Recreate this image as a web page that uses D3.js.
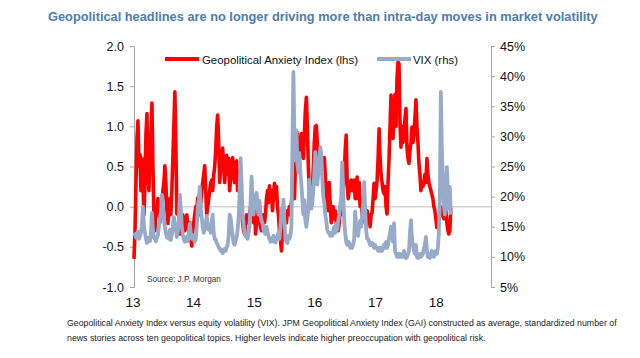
<!DOCTYPE html>
<html><head><meta charset="utf-8">
<script src="https://cdn.jsdelivr.net/npm/d3@7"></script>
<style>
body{margin:0;background:#fff;}
svg{display:block;font-family:"Liberation Sans",Arial,Helvetica,sans-serif;}
</style>
</head><body>
<svg id="chart" width="640" height="358"></svg>
<script>
// ---- data (one observation every 6 days starting 2013-01-01) ----
const startDate = new Date(2013, 0, 1);
const stepDays = 6;

const gaiValues = [
-0.65,-0.3,0.3,0.85,1.07,0.5,0.65,0.2,0.6,0.3,
-0.1,0.3,0.9,1.16,0.4,0.2,0.7,0.9,1.29,0.5,
-0.1,-0.3,0.0,-0.1,0.1,-0.05,-0.2,0.0,-0.1,0.2,
0.3,0.51,0.3,-0.05,-0.21,0.0,0.1,-0.1,0.2,0.6,
1.0,1.43,0.8,-0.09,0.1,-0.1,-0.34,-0.2,-0.25,-0.1,
-0.2,-0.3,-0.2,-0.1,-0.25,-0.3,-0.2,-0.4,-0.49,-0.3,
-0.2,-0.1,0.0,-0.05,0.11,0.0,-0.1,0.05,0.2,0.3,
0.4,0.51,0.2,-0.1,0.0,0.1,0.2,0.3,0.33,0.2,
0.39,0.5,0.7,1.0,1.14,0.8,0.3,0.5,0.6,0.73,
0.5,0.3,0.5,0.64,0.4,0.6,0.2,0.35,0.5,0.61,
0.4,0.3,0.5,0.57,0.2,0.4,0.45,0.2,0.0,-0.2,
-0.3,-0.34,-0.2,-0.1,-0.2,-0.15,-0.1,0.0,-0.05,0.11,
-0.2,0.04,-0.34,-0.2,-0.1,-0.2,-0.15,-0.25,-0.3,-0.2,
-0.1,-0.2,-0.1,0.1,0.2,0.05,0.26,0.1,0.2,-0.05,
0.15,0.29,0.1,0.25,0.0,-0.1,-0.3,-0.4,-0.55,-0.3,
-0.2,-0.15,-0.1,-0.2,-0.05,-0.1,0.0,-0.1,0.05,0.2,
0.33,0.1,0.5,0.7,0.92,0.7,0.6,0.64,0.91,0.8,
0.6,0.9,1.2,1.36,1.0,0.5,0.2,0.07,0.0,0.2,
0.5,0.8,1.0,1.01,0.8,0.6,0.41,0.5,0.61,0.5,
0.3,0.61,0.4,0.2,0.0,-0.05,0.3,0.0,-0.2,-0.1,
0.0,-0.15,-0.05,-0.2,-0.1,-0.3,-0.2,0.0,-0.1,0.1,
0.2,0.4,0.7,0.89,0.3,0.1,0.2,0.3,0.33,0.2,
0.3,0.33,0.1,0.2,0.37,0.1,0.3,0.0,0.1,-0.1,
0.0,-0.1,-0.2,-0.24,-0.05,-0.2,-0.1,-0.25,-0.1,-0.07,
0.1,0.29,0.1,0.2,0.33,0.6,0.97,0.6,0.4,0.3,
0.2,0.16,0.25,0.0,-0.09,0.3,0.6,1.0,1.39,1.0,
0.85,1.16,1.4,1.0,1.6,1.8,1.78,1.03,0.74,1.0,
0.8,0.9,1.1,1.22,0.74,0.6,0.54,0.7,0.8,0.99,
0.8,0.9,1.1,1.33,1.0,0.8,0.54,0.4,0.2,0.3,
0.25,0.3,0.4,0.3,0.6,0.4,0.3,0.25,0.2,0.15,
0.1,0.0,-0.05,-0.15,-0.26,-0.2,-0.15,-0.1,0.0,-0.05,
-0.1,-0.15,-0.1,-0.05,-0.2,-0.29,-0.34,-0.3,-0.02
];

const vixValues = [
14,13.8,13.2,13.6,14.2,13,13.5,14,15.5,18.3,
15,14,13,12.3,12.8,13.2,12.6,14,17.3,14.5,
13.2,13,12.6,13.2,13.6,15,16.2,17.5,20.3,18.5,
16.5,15,14,13.2,13.4,13,14.5,12.8,13.8,15,
16.6,15.5,14.5,13.3,14.2,16,20.3,18,15,13.6,
13,12.5,12.8,13.3,12.6,13.8,15.5,14,13,13.6,
13.2,12.5,13,15,18.1,19.5,21.6,18,16.5,15,
14,14.5,15.5,16.8,15,14.5,15.2,14,15.8,17,
14,13,12.9,12.3,12,11.6,11.4,11,11.2,10.6,
11,11.3,11,11.6,12,13.5,17,16.5,15,13.5,
12.2,12,12.8,13.2,14.5,16.5,20.5,26.4,22,17,
15.5,14,13.5,13.2,13,14,15,19,23.3,19.5,
17,19,20,20.6,19,17,19.3,17,16,15.6,
14.5,14,13.8,15,14.2,13.5,13,12.5,13,12.6,
13.5,12.5,12.4,13,13.5,14,13,15,18,16.5,
19.5,16,13,12.5,12.3,13.5,13,13.5,15,28,
40.7,30,26,31,25.5,24,27.2,24,22,19.5,
17,19.4,16,15,16.5,18,22.8,20,18,19,
21,24,27.4,25,22,24,26,28.2,27,23,
20,19,17,16,14.5,14,14,13.5,14,13.5,
14.2,15,14,15.5,14.5,16,17,18.5,20,25.7,
21,16,14,12.5,12,12.5,12.3,11.5,12,11.5,
12,13,17.5,15,14,13.5,15,16,15,17,
19,22.4,18,14.5,13,13,12.5,12,12,12.3,
12,11.5,12,11.5,11.5,11,11.5,11,11.5,11,
11.5,12,11.5,12.5,11.5,12,13,14,15,14.5,
12.5,15.6,11,10.5,10,10.5,10,10.5,10,10.2,
10,11,10,9.8,10,10.5,11,14,16.1,13,
12,11,10.5,12,10,9.8,10,10.5,10,10.2,
10.5,11.5,12,13.3,11,10,10,9.8,10.5,11,
10.5,10,10.5,11,10.5,11.5,14,20,37.4,28,
22.8,19,17,20,24.9,21,18,21.6,17
];

const leftTicks = [-1.0, -0.5, 0.0, 0.5, 1.0, 1.5, 2.0];
const rightTicks = [5, 10, 15, 20, 25, 30, 35, 40, 45];
const yearTicks = [2013, 2014, 2015, 2016, 2017, 2018];
const yearLabels = ["13", "14", "15", "16", "17", "18"];

const seriesNames = ["Geopolitical Anxiety Index (lhs)", "VIX (rhs)"];
const titleText = "Geopolitical headlines are no longer driving more than intra-day moves in market volatility";
const sourceText = "Source: J.P. Morgan";
const captionLines = [
  "Geopolitical Anxiety Index versus equity volatility (VIX). JPM Geopolitical Anxiety Index (GAI) constructed as average, standardized number of",
  "news stories across ten geopolitical topics. Higher levels indicate higher preoccupation with geopolitical risk."
];

// ---- drawing ----
const RED = "#ff0000", GREY = "#97aac8", AXIS = "#a6a6a6";
const svg = d3.select("#chart");
svg.append("rect").attr("width", 640).attr("height", 358).attr("fill", "#fff");

const dateAt = i => d3.timeDay.offset(startDate, i * stepDays);
const x = d3.scaleTime().domain([startDate, new Date(2018, 10, 21)]).range([134, 491]);
const yL = d3.scaleLinear().domain([-1, 2]).range([287, 46]);
const yR = d3.scaleLinear().domain([5, 45]).range([287, 46]);

function fitWidth(sel, target) {
  const w = sel.node().getComputedTextLength();
  const fs = parseFloat(sel.attr("font-size"));
  sel.attr("font-size", (fs * target / w).toFixed(2));
  return fs * target / w;
}

// title
const title = svg.append("text").attr("x", 48).attr("y", 21)
  .attr("font-size", 13).attr("font-weight", "bold").attr("fill", "#4a7db6")
  .text(titleText);
fitWidth(title, 550);

// zero line
svg.append("line").attr("x1", x.range()[0]).attr("x2", x.range()[1])
  .attr("y1", yL(0)).attr("y2", yL(0))
  .attr("stroke", "#d4d4d4").attr("stroke-width", 1.5);

// axes
const gL = svg.append("g").attr("transform", `translate(${x.range()[0]},0)`)
  .call(d3.axisLeft(yL).tickValues(leftTicks).tickSize(4).tickPadding(6)
    .tickFormat(d => d.toFixed(1)));
const gR = svg.append("g").attr("transform", `translate(${x.range()[1]},0)`)
  .call(d3.axisRight(yR).tickValues(rightTicks).tickSize(4).tickPadding(5)
    .tickFormat(d => d + "%"));
[gL, gR].forEach(g => {
  g.selectAll("path,line").attr("stroke", AXIS);
  g.selectAll("text").attr("font-size", 12.5).attr("fill", "#111")
    .attr("font-family", '"Liberation Sans",Arial,sans-serif');
});

// x labels
svg.append("g").selectAll("text").data(yearTicks).join("text")
  .attr("x", d => x(new Date(d, 0, 1)) - 1).attr("y", 307)
  .attr("text-anchor", "middle").attr("font-size", 13.5).attr("fill", "#111")
  .text((d, i) => yearLabels[i]);

// series
const lineL = d3.line().x((d, i) => x(dateAt(i))).y(d => yL(d)).curve(d3.curveLinear);
const lineR = d3.line().x((d, i) => x(dateAt(i))).y(d => yR(d)).curve(d3.curveLinear);
svg.append("path").datum(gaiValues).attr("d", lineL)
  .attr("fill", "none").attr("stroke", RED).attr("stroke-width", 3.6)
  .attr("stroke-linejoin", "round");
svg.append("path").datum(vixValues).attr("d", lineR)
  .attr("fill", "none").attr("stroke", GREY).attr("stroke-width", 3.8)
  .attr("stroke-linejoin", "round");

// legend
const leg = svg.append("g");
leg.append("line").attr("x1", 165).attr("x2", 199).attr("y1", 59).attr("y2", 59)
  .attr("stroke", RED).attr("stroke-width", 4);
const lt1 = leg.append("text").attr("x", 202).attr("y", 63.5).attr("font-size", 12)
  .attr("fill", "#111").text(seriesNames[0]);
const fsLeg = fitWidth(lt1, 156);
leg.append("line").attr("x1", 377).attr("x2", 411).attr("y1", 59).attr("y2", 59)
  .attr("stroke", GREY).attr("stroke-width", 4);
leg.append("text").attr("x", 413).attr("y", 63.5).attr("font-size", fsLeg.toFixed(2))
  .attr("fill", "#111").text(seriesNames[1]);

// source
const src = svg.append("text").attr("x", 147).attr("y", 282).attr("font-size", 9)
  .attr("fill", "#333").text(sourceText);
fitWidth(src, 74);

// caption
const c1 = svg.append("text").attr("x", 67).attr("y", 326).attr("font-size", 9)
  .attr("fill", "#222").text(captionLines[0]);
const fsCap = fitWidth(c1, 550);
svg.append("text").attr("x", 67).attr("y", 341).attr("font-size", fsCap.toFixed(2))
  .attr("fill", "#222").text(captionLines[1]);
</script>
</body></html>
